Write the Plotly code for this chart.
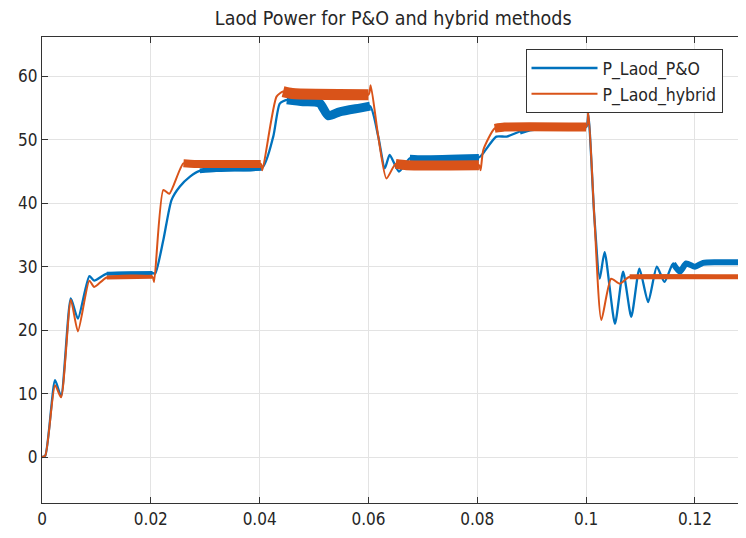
import plotly.graph_objects as go

# ---------------- data ----------------
t_po = [0.0, 0.0006, 0.0024, 0.0035, 0.0053, 0.0066, 0.0087, 0.0096, 0.0119, 0.0203,
        0.0208, 0.0223, 0.0238, 0.0253, 0.0272, 0.0290, 0.0320, 0.0404,
        0.0425, 0.0437, 0.0450, 0.0480, 0.0510, 0.0526, 0.0547, 0.0584, 0.0603,
        0.0618, 0.0630, 0.0639, 0.0656, 0.0676, 0.0700, 0.0803,
        0.0810, 0.0835, 0.0854, 0.0878, 0.0900, 0.1000, 0.1004,
        0.1015, 0.1025, 0.1034, 0.1053, 0.1068, 0.1083, 0.1098, 0.1114, 0.1130,
        0.1144, 0.1160, 0.1172, 0.1184, 0.1200, 0.1215, 0.1240, 0.1300]
p_po = [0.0, 0.2, 12.1, 9.6, 25.0, 21.8, 28.5, 27.8, 28.9, 29.0,
        28.9, 34.2, 40.5, 42.6, 44.2, 45.1, 45.3, 45.5,
        50.5, 55.7, 56.3, 56.0, 55.8, 53.8, 54.4, 55.0, 55.3,
        50.5, 45.5, 47.6, 45.0, 47.1, 47.0, 47.2,
        47.8, 50.5, 50.5, 51.3, 51.8, 52.0, 54.0,
        38.0, 28.1, 32.3, 21.0, 29.2, 22.1, 29.7, 24.4, 30.0,
        27.6, 30.5, 29.2, 30.5, 30.0, 30.6, 30.7, 30.7]

t_hy = [0.0, 0.0006, 0.0024, 0.0035, 0.0053, 0.0066, 0.0087, 0.0096, 0.0119, 0.0203,
        0.0206, 0.0223, 0.0234, 0.0260, 0.0280, 0.0402,
        0.0405, 0.0431, 0.0443, 0.0460, 0.0600, 0.0604,
        0.0618, 0.0633, 0.0650, 0.0670, 0.0803,
        0.0806, 0.0811, 0.0832, 0.0850, 0.1000, 0.1004,
        0.1015, 0.1028, 0.1046, 0.1062, 0.1080, 0.1300]
p_hy = [0.0, 0.2, 11.3, 9.4, 24.8, 19.8, 27.8, 26.8, 28.3, 28.4,
        27.6, 42.1, 41.5, 46.3, 46.2, 46.2,
        45.2, 56.8, 57.6, 57.3, 57.1, 58.6,
        50.5, 43.9, 46.2, 46.0, 46.0,
        45.2, 48.4, 51.8, 52.0, 52.0, 54.4,
        38.0, 21.6, 28.1, 27.3, 28.4, 28.4]

x_ticks = [0, 0.02, 0.04, 0.06, 0.08, 0.1, 0.12]
x_labels = ["0", "0.02", "0.04", "0.06", "0.08", "0.1", "0.12"]
y_ticks = [0, 10, 20, 30, 40, 50, 60]
y_labels = ["0", "10", "20", "30", "40", "50", "60"]

title_text = "Laod Power for P&O and hybrid methods"
name_po = "P_Laod_P&O"
name_hy = "P_Laod_hybrid"

# ---------------- style ----------------
BLUE = "#0072BD"
ORANGE = "#D95319"
FONT = "DejaVu Sans Condensed, Liberation Sans Narrow, Liberation Sans, Arial"
TXT = "#262626"

# steady-state ripple bands drawn thicker: (t_start, t_end, width)
bands_po = [(0.0115, 0.0205, 4), (0.029, 0.0405, 5), (0.0445, 0.0605, 9),
            (0.0665, 0.0805, 7), (0.0875, 0.1001, 6), (0.1150, 0.1300, 6)]
bands_hy = [(0.0115, 0.0205, 4), (0.0258, 0.0403, 8), (0.0440, 0.0601, 11),
            (0.0648, 0.0804, 10), (0.0830, 0.1001, 9), (0.1075, 0.1300, 5)]


def band_pts(ts, vs, a, b):
    xs, ys = [], []
    for t, v in zip(ts, vs):
        if a <= t <= b:
            xs.append(t)
            ys.append(v)
    return xs, ys


SHAPE = dict(shape="spline", smoothing=0.6)

fig = go.Figure()

# P&O series
fig.add_trace(go.Scatter(x=t_po, y=p_po, mode="lines", name=name_po,
                         line=dict(color=BLUE, width=2.3, **SHAPE)))
for a, b, w in bands_po:
    xs, ys = band_pts(t_po, p_po, a, b)
    fig.add_trace(go.Scatter(x=xs, y=ys, mode="lines", showlegend=False,
                             hoverinfo="skip", line=dict(color=BLUE, width=w, **SHAPE)))

# hybrid series
fig.add_trace(go.Scatter(x=t_hy, y=p_hy, mode="lines", name=name_hy,
                         line=dict(color=ORANGE, width=2, **SHAPE)))
for a, b, w in bands_hy:
    xs, ys = band_pts(t_hy, p_hy, a, b)
    fig.add_trace(go.Scatter(x=xs, y=ys, mode="lines", showlegend=False,
                             hoverinfo="skip", line=dict(color=ORANGE, width=w, **SHAPE)))

axis_common = dict(showgrid=True, gridcolor="#e3e3e3", gridwidth=1,
                   showline=True, linecolor="#333333", linewidth=1.2,
                   mirror="allticks", ticks="inside", ticklen=6,
                   tickcolor="#333333", zeroline=False, automargin=False,
                   tickfont=dict(family=FONT, size=17, color=TXT))

# the page body adds an 8px offset; the figure is sized to fit the window
fig.update_layout(
    width=738, height=530,
    margin=dict(l=34, r=1, t=29, b=35),
    paper_bgcolor="white", plot_bgcolor="white",
    title=dict(text=title_text, x=0.522, xanchor="center",
               y=0.981, yanchor="middle", yref="container",
               font=dict(family=FONT, size=19.5, color=TXT)),
    xaxis=dict(range=[0, 0.1292], tickvals=x_ticks, ticktext=x_labels, **axis_common),
    yaxis=dict(range=[-7.25, 66.2], tickvals=y_ticks, ticktext=y_labels, **axis_common),
    legend=dict(x=0.968, xanchor="right", y=0.974, yanchor="top",
                bgcolor="white", bordercolor="#333333", borderwidth=1,
                font=dict(family=FONT, size=17.5, color=TXT),
                itemwidth=66, tracegroupgap=0),
    showlegend=True,
)

fig.write_html("out.html")
